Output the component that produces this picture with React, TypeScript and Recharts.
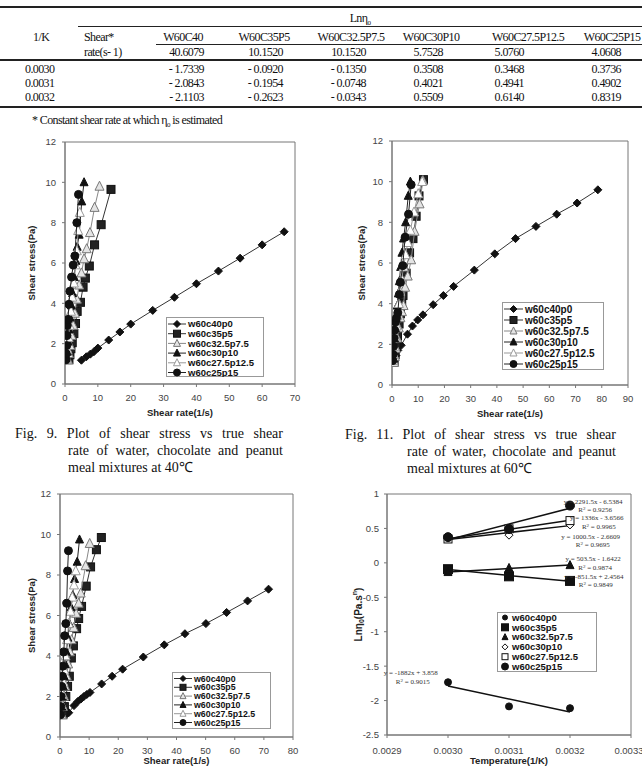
import React from "react";
import {
  ScatterChart,
  Scatter,
  XAxis,
  YAxis,
  ReferenceArea,
  ReferenceDot,
  ReferenceLine,
  Legend,
} from "recharts";

const SANS = "'Liberation Sans', Arial, sans-serif";
const SERIF = "'Liberation Serif', 'Times New Roman', serif";

// ---- table data ----
const MIXES = ["W60C40", "W60C35P5", "W60C32.5P7.5", "W60C30P10", "W60C27.5P12.5", "W60C25P15"];
const RATE_AT = ["40.6079", "10.1520", "10.1520", "5.7528", "5.0760", "4.0608"];
const INV_T = [0.003, 0.0031, 0.0032];
const INV_T_LABELS = ["0.0030", "0.0031", "0.0032"];

const lnEtaC40 = [-1.7339, -2.0843, -2.1103];
const lnEtaC35P5 = [-0.092, -0.1954, -0.2623];
const lnEtaC32P7 = [-0.135, -0.0748, -0.0343];
const lnEtaC30P10 = [0.3508, 0.4021, 0.5509];
const lnEtaC27P12 = [0.3468, 0.4941, 0.614];
const lnEtaC25P15 = [0.3736, 0.4902, 0.8319];
const LN_ETA = [lnEtaC40, lnEtaC35P5, lnEtaC32P7, lnEtaC30P10, lnEtaC27P12, lnEtaC25P15];

// trend lines as printed on the Arrhenius plot
const trendSlope = [-1882, -851.5, 503.5, 1000.5, 1336, 2291.5];
const trendIntercept = [3.858, 2.4564, -1.6422, -2.6609, -3.6566, -6.5384];
const trendR2 = ["0.9015", "0.9849", "0.9874", "0.9695", "0.9965", "0.9256"];
const eqAnchorX = [0.002939, 0.003239, 0.003238, 0.003234, 0.003244, 0.003238];
const eqAnchorY = [-1.6, -0.205, 0.056, 0.376, 0.651, 0.884];

const SERIES = ["w60c40p0", "w60c35p5", "w60c32.5p7.5", "w60c30p10", "w60c27.5p12.5", "w60c25p15"];

// ---- Fig. 9, 40℃ ----
const r40_c40p0 = [5.0, 6.5, 7.7, 8.8, 10.0, 13.3, 16.7, 20.0, 26.7, 33.3, 40.0, 46.7, 53.3, 60.0, 66.7];
const s40_c40p0 = [1.18, 1.35, 1.48, 1.6, 1.78, 2.18, 2.58, 2.97, 3.65, 4.3, 4.97, 5.6, 6.24, 6.9, 7.55];
const r40_c35p5 = [1.2, 1.5, 1.8, 2.2, 2.7, 3.2, 3.7, 4.7, 5.5, 6.2, 7.4, 9.0, 11.0, 14.0];
const s40_c35p5 = [1.2, 1.45, 1.75, 2.05, 2.5, 3.0, 3.6, 4.05, 4.8, 5.25, 5.85, 6.9, 7.9, 9.65];
const r40_c32p7 = [0.9, 1.2, 1.6, 2.0, 2.5, 3.0, 3.6, 4.3, 5.0, 5.8, 6.6, 7.6, 9.0, 10.5];
const s40_c32p7 = [1.2, 1.5, 1.9, 2.4, 2.9, 3.5, 4.2, 4.9, 5.5, 6.2, 6.7, 7.5, 8.75, 9.8];
const r40_c30p10 = [0.5, 0.7, 0.9, 1.2, 1.5, 1.9, 2.3, 2.8, 3.3, 3.7, 4.3, 5.1, 5.8];
const s40_c30p10 = [1.2, 1.6, 2.1, 2.7, 3.3, 3.9, 4.5, 5.3, 6.1, 6.8, 7.4, 9.05, 10.0];
const r40_c27p12 = [0.6, 0.8, 1.1, 1.4, 1.8, 2.2, 2.7, 3.2, 3.6, 4.0, 4.5];
const s40_c27p12 = [1.2, 1.7, 2.3, 2.9, 3.6, 4.3, 5.0, 5.9, 6.6, 7.6, 8.5];
const r40_c25p15 = [0.3, 0.4, 0.5, 0.6, 0.7, 0.9, 1.2, 1.5, 2.0, 2.5, 3.0, 3.6, 4.1];
const s40_c25p15 = [1.2, 1.5, 1.9, 2.4, 2.9, 3.2, 3.95, 4.6, 5.3, 5.9, 6.35, 8.0, 9.4];

// ---- Fig. 11, 60℃ ----
const r60_c40p0 = [1.0, 1.5, 2.2, 3.5, 5.9, 7.8, 9.8, 11.8, 15.7, 19.6, 23.5, 31.4, 39.2, 47.1, 54.9, 62.8, 70.6, 78.5];
const s60_c40p0 = [1.2, 1.45, 1.7, 1.95, 2.5, 2.9, 3.2, 3.45, 3.95, 4.4, 4.85, 5.65, 6.45, 7.2, 7.8, 8.4, 8.95, 9.6];
const r60_c35p5 = [0.8, 1.2, 1.6, 2.1, 2.7, 3.2, 3.7, 4.2, 5.4, 6.7, 8.0, 9.2, 10.3, 12.0];
const s60_c35p5 = [1.15, 1.5, 1.9, 2.4, 3.0, 3.5, 4.0, 4.4, 5.5, 6.5, 7.2, 8.3, 9.3, 10.1];
const r60_c32p7 = [0.8, 1.1, 1.5, 2.0, 2.6, 3.2, 3.8, 4.4, 5.0, 6.0, 7.3, 8.6, 10.5, 11.8];
const s60_c32p7 = [1.1, 1.4, 1.8, 2.3, 2.8, 3.3, 3.6, 3.9, 4.8, 5.35, 6.15, 7.55, 8.9, 10.05];
const r60_c30p10 = [0.4, 0.6, 0.8, 1.0, 1.3, 1.6, 2.0, 2.4, 2.8, 3.3, 3.8, 4.4, 5.2, 6.2, 7.0];
const s60_c30p10 = [1.2, 1.5, 1.9, 2.3, 2.8, 3.3, 3.9, 4.5, 5.1, 5.8, 6.5, 7.2, 8.0, 9.3, 10.0];
const r60_c27p12 = [0.5, 0.7, 1.0, 1.3, 1.7, 2.1, 2.6, 3.1, 3.7, 4.4, 5.2, 6.0, 7.0, 8.4, 10.0, 11.5];
const s60_c27p12 = [1.2, 1.5, 1.9, 2.4, 2.9, 3.4, 4.0, 4.6, 5.2, 5.8, 6.4, 7.0, 7.6, 8.5, 9.4, 10.0];
const r60_c25p15 = [0.3, 0.4, 0.6, 0.8, 1.0, 1.3, 1.7, 2.2, 2.8, 3.2, 4.1, 5.0, 6.3, 7.3];
const s60_c25p15 = [1.2, 1.5, 1.9, 2.3, 2.7, 3.1, 3.3, 3.55, 4.45, 5.05, 5.87, 7.27, 8.4, 9.85];

// ---- lower left plot ----
const r50_c40p0 = [2.0, 3.0, 4.8, 6.1, 7.2, 8.2, 9.2, 10.3, 14.3, 17.9, 21.5, 28.6, 35.8, 42.9, 50.1, 57.2, 64.4, 71.6];
const s50_c40p0 = [1.1, 1.2, 1.55, 1.75, 1.88, 2.0, 2.1, 2.2, 2.62, 3.0, 3.35, 3.95, 4.55, 5.1, 5.6, 6.15, 6.72, 7.3];
const r50_c35p5 = [1.0, 1.5, 2.0, 2.6, 3.2, 3.9, 4.6, 5.7, 6.4, 7.4, 9.0, 10.5, 12.5, 14.2];
const s50_c35p5 = [1.1, 1.5, 2.0, 2.5, 3.0, 3.9, 4.5, 5.35, 5.85, 6.45, 7.45, 8.4, 9.25, 9.85];
const r50_c32p7 = [0.7, 1.0, 1.4, 1.8, 2.3, 2.8, 3.4, 4.0, 4.7, 5.5, 6.4, 7.1, 8.8, 10.2];
const s50_c32p7 = [1.1, 1.5, 2.0, 2.5, 3.0, 3.6, 4.2, 4.8, 5.4, 6.1, 6.6, 7.1, 8.45, 9.55];
const r50_c30p10 = [0.4, 0.6, 0.8, 1.1, 1.4, 1.8, 2.2, 2.7, 3.2, 3.8, 4.4, 5.0, 5.9, 6.7];
const s50_c30p10 = [1.1, 1.5, 2.0, 2.5, 3.0, 3.6, 4.2, 4.9, 5.6, 6.4, 7.0, 7.8, 8.65, 9.75];
const r50_c27p12 = [0.4, 0.6, 0.9, 1.2, 1.5, 1.9, 2.4, 3.0, 3.6, 4.2, 4.8, 5.4];
const s50_c27p12 = [1.1, 1.6, 2.1, 2.7, 3.3, 4.0, 4.8, 5.6, 6.2, 6.9, 7.5, 8.2];
const r50_c25p15 = [0.2, 0.3, 0.4, 0.6, 0.8, 1.0, 1.3, 1.6, 2.0, 2.3, 2.6, 2.9];
const s50_c25p15 = [1.1, 1.5, 2.0, 2.5, 3.0, 3.5, 4.2, 5.0, 5.6, 6.6, 8.2, 9.2];

const STRESS_TICKS = [0, 2, 4, 6, 8, 10, 12];
const LN_TICKS = [-2.5, -2, -1.5, -1, -0.5, 0, 0.5, 1];
const T_TICKS = [0.0029, 0.003, 0.0031, 0.0032, 0.0033];

type Kind = "diamond" | "square" | "triangle" | "circle";
interface MarkStyle {
  kind: Kind;
  fill: string;
  stroke: string;
  size: number;
}

const SHEAR_MARKS: MarkStyle[] = [
  { kind: "diamond", fill: "#111", stroke: "#111", size: 8 },
  { kind: "square", fill: "#222", stroke: "#111", size: 8 },
  { kind: "triangle", fill: "#e4e4e4", stroke: "#777", size: 9 },
  { kind: "triangle", fill: "#111", stroke: "#111", size: 8 },
  { kind: "triangle", fill: "#fff", stroke: "#999", size: 9 },
  { kind: "circle", fill: "#111", stroke: "#111", size: 8 },
];
const SHEAR_LINES = ["#333", "#333", "#888", "#222", "#999", "#222"];

const LN_MARKS: MarkStyle[] = [
  { kind: "circle", fill: "#111", stroke: "#111", size: 7 },
  { kind: "square", fill: "#111", stroke: "#111", size: 9 },
  { kind: "triangle", fill: "#111", stroke: "#111", size: 8 },
  { kind: "diamond", fill: "#fff", stroke: "#111", size: 8 },
  { kind: "square", fill: "#fff", stroke: "#111", size: 8 },
  { kind: "circle", fill: "#111", stroke: "#111", size: 9 },
];

const pts = (xs: number[], ys: number[]) => xs.map((x, i) => ({ x, y: ys[i] }));

const TICK = { fontSize: 9.5, fill: "#444", fontFamily: SANS };
const AXIS_TITLE = { fontFamily: SANS, fontSize: 9.5, fontWeight: 700, fill: "#222" };

function Mark({ cx, cy, s }: { cx: number; cy: number; s: MarkStyle }) {
  if (cx == null || cy == null) return null;
  const h = s.size / 2;
  const c = { fill: s.fill, stroke: s.stroke, strokeWidth: 1 };
  if (s.kind === "diamond")
    return <polygon points={`${cx},${cy - h} ${cx + h},${cy} ${cx},${cy + h} ${cx - h},${cy}`} {...c} />;
  if (s.kind === "square") return <rect x={cx - h} y={cy - h} width={s.size} height={s.size} {...c} />;
  if (s.kind === "triangle")
    return (
      <polygon
        points={`${cx},${cy - h * 1.15} ${cx + h},${cy + h * 0.85} ${cx - h},${cy + h * 0.85}`}
        {...c}
      />
    );
  return <circle cx={cx} cy={cy} r={h} {...c} />;
}

interface LegendSpec {
  left: number;
  top: number;
  w: number;
  h: number;
  y0: number;
  step: number;
  textX: number;
  font: number;
  markSize: number;
}

function ShearLegend({ w, h, y0, step, textX, font, markSize }: LegendSpec) {
  return (
    <svg width={w} height={h} style={{ display: "block" }}>
      <rect x={0.5} y={0.5} width={w - 1} height={h - 1} fill="#fff" stroke="#999" />
      {SERIES.map((name, i) => {
        const cy = y0 + step * i;
        return (
          <g key={name}>
            <line x1={2} x2={textX - 2} y1={cy} y2={cy} stroke={SHEAR_LINES[i]} />
            <Mark cx={textX / 2} cy={cy} s={{ ...SHEAR_MARKS[i], size: markSize }} />
            <text x={textX} y={cy} dy="0.35em" fontFamily={SANS} fontSize={font} fontWeight={700} fill="#111">
              {name}
            </text>
          </g>
        );
      })}
    </svg>
  );
}

interface ShearPlotProps {
  left: number;
  top: number;
  width: number;
  height: number;
  margin: { top: number; right: number; bottom: number; left: number };
  xAxisH: number;
  xMax: number;
  xTicks: number[];
  data: { x: number; y: number }[][];
  legend: LegendSpec;
  yLabelOffset: number;
}

function ShearPlot(p: ShearPlotProps) {
  return (
    <div style={{ position: "absolute", left: p.left, top: p.top }}>
      <ScatterChart width={p.width} height={p.height} margin={p.margin}>
        <XAxis
          type="number"
          dataKey="x"
          domain={[0, p.xMax]}
          ticks={p.xTicks}
          allowDataOverflow
          height={p.xAxisH}
          tickSize={3}
          tickMargin={7}
          tick={TICK}
          stroke="#777"
          label={{ value: "Shear rate(1/s)", position: "insideBottom", offset: 0, style: AXIS_TITLE }}
        />
        <YAxis
          type="number"
          dataKey="y"
          domain={[0, 12]}
          ticks={STRESS_TICKS}
          allowDataOverflow
          width={40}
          tickSize={3}
          tickMargin={6}
          tick={TICK}
          stroke="#777"
          label={{
            value: "Shear stress(Pa)",
            angle: -90,
            position: "insideLeft",
            offset: p.yLabelOffset,
            style: { ...AXIS_TITLE, textAnchor: "middle" },
          }}
        />
        <ReferenceArea x1={0} x2={p.xMax} y1={0} y2={12} fill="none" stroke="#777" />
        {p.data.map((d, i) => (
          <Scatter
            key={SERIES[i]}
            name={SERIES[i]}
            data={d}
            line={{ stroke: SHEAR_LINES[i], strokeWidth: 1 }}
            lineType="joint"
            isAnimationActive={false}
            shape={(sp: any) => <Mark cx={sp.cx} cy={sp.cy} s={SHEAR_MARKS[i]} />}
          />
        ))}
        <Legend
          layout="vertical"
          align="center"
          verticalAlign="middle"
          wrapperStyle={{ left: p.legend.left, top: p.legend.top, width: p.legend.w, height: p.legend.h }}
          content={() => <ShearLegend {...p.legend} />}
        />
      </ScatterChart>
    </div>
  );
}

const lnLabel = (props: any) => {
  const vb = props.viewBox || { x: 17, y: 16, width: 40, height: 241 };
  const x = vb.x + 11;
  const y = vb.y + vb.height / 2;
  return (
    <text
      x={x}
      y={y}
      transform={`rotate(-90 ${x} ${y})`}
      textAnchor="middle"
      dominantBaseline="central"
      fontFamily={SANS}
      fontSize={10}
      fontWeight={700}
      fill="#222"
    >
      Lnη
      <tspan fontSize={7} dy={3}>0</tspan>
      <tspan dy={-3}>(Pa.s</tspan>
      <tspan fontSize={7} dy={-4}>n</tspan>
      <tspan dy={4}>)</tspan>
    </text>
  );
};

function eqText(i: number) {
  const m = trendSlope[i];
  const b = trendIntercept[i];
  return `y = ${m}x ${b < 0 ? "-" : "+"} ${Math.abs(b)}`;
}

function LnLegend() {
  return (
    <svg width={100} height={60} style={{ display: "block" }}>
      <rect x={0.5} y={0.5} width={99} height={59} fill="#fff" stroke="#999" />
      {SERIES.map((name, i) => {
        const cy = 5.5 + i * 9.8;
        return (
          <g key={name}>
            <Mark cx={8} cy={cy} s={{ ...LN_MARKS[i], size: LN_MARKS[i].size - 2 }} />
            <text x={15} y={cy} dy="0.35em" fontFamily={SANS} fontSize={9.5} fontWeight={700} fill="#111">
              {name}
            </text>
          </g>
        );
      })}
    </svg>
  );
}

function LnPlot() {
  return (
    <div style={{ position: "absolute", left: 330, top: 478 }}>
      <ScatterChart width={312} height={289} margin={{ top: 16, right: 11, bottom: 3, left: 17 }}>
        <XAxis
          type="number"
          dataKey="x"
          domain={[0.0029, 0.0033]}
          ticks={T_TICKS}
          tickFormatter={(v: number) => v.toFixed(4)}
          allowDataOverflow
          height={29}
          tickSize={3}
          tickMargin={9}
          tick={TICK}
          stroke="#777"
          label={{ value: "Temperature(1/K)", position: "insideBottom", offset: 0, style: AXIS_TITLE }}
        />
        <YAxis
          type="number"
          dataKey="y"
          domain={[-2.5, 1]}
          ticks={LN_TICKS}
          allowDataOverflow
          width={40}
          tickSize={3}
          tickMargin={5}
          tick={TICK}
          stroke="#777"
          label={lnLabel}
        />
        <ReferenceArea x1={0.0029} x2={0.0033} y1={-2.5} y2={1} fill="none" stroke="#777" />
        {trendSlope.map((m, i) => (
          <ReferenceLine
            key={`t${i}`}
            segment={[
              { x: INV_T[0], y: m * INV_T[0] + trendIntercept[i] },
              { x: INV_T[2], y: m * INV_T[2] + trendIntercept[i] },
            ]}
            stroke="#111"
            strokeWidth={1.5}
          />
        ))}
        {LN_ETA.map((ys, i) => (
          <Scatter
            key={SERIES[i]}
            name={SERIES[i]}
            data={pts(INV_T, ys)}
            isAnimationActive={false}
            shape={(sp: any) => <Mark cx={sp.cx} cy={sp.cy} s={LN_MARKS[i]} />}
          />
        ))}
        {eqAnchorX.map((x, i) => (
          <ReferenceDot
            key={`e${i}`}
            x={x}
            y={eqAnchorY[i]}
            r={0}
            shape={(sp: any) => (
              <g fontFamily={SERIF} fontSize={7} fill="#333">
                <text x={sp.cx} y={sp.cy} textAnchor="middle" dominantBaseline="central">
                  {eqText(i)}
                </text>
                <text x={sp.cx + 2} y={sp.cy + 8.5} textAnchor="middle" dominantBaseline="central">
                  R<tspan fontSize={5} dy={-2}>2</tspan>
                  <tspan dy={2}> = {trendR2[i]}</tspan>
                </text>
              </g>
            )}
          />
        ))}
        <Legend
          layout="vertical"
          align="center"
          verticalAlign="middle"
          wrapperStyle={{ left: 167, top: 134, width: 100, height: 60 }}
          content={() => <LnLegend />}
        />
      </ScatterChart>
    </div>
  );
}

function DataTable() {
  const base: React.CSSProperties = {
    position: "absolute",
    fontFamily: SERIF,
    fontSize: 12,
    letterSpacing: -0.6,
    lineHeight: "14px",
    whiteSpace: "nowrap",
    color: "#111",
  };
  const headCenters = [183, 264, 351, 431, 528, 612];
  const valueRights = [204, 283, 366, 443, 524, 621];
  const rowY = [69, 83, 97];
  const fmt = (v: number) => (v < 0 ? `- ${Math.abs(v).toFixed(4)}` : v.toFixed(4));
  const rule = (top: number, left: number, h: number) => (
    <div style={{ position: "absolute", left, right: 0, top, height: h, background: "#222" }} />
  );
  return (
    <>
      {rule(6, 0, 1.5)}
      {rule(25.5, 78, 1)}
      {rule(44, 156, 1)}
      {rule(59, 0, 1.5)}
      {rule(106, 0, 1.5)}
      <div style={{ ...base, left: 300, width: 120, top: 11, textAlign: "center" }}>
        Lnη<sub style={{ fontSize: 7 }}>0</sub>
      </div>
      <div style={{ ...base, left: 33, top: 30 }}>1/K</div>
      <div style={{ ...base, left: 84, top: 30 }}>Shear*</div>
      <div style={{ ...base, left: 84, top: 45 }}>rate(s- 1)</div>
      {MIXES.map((m, i) => (
        <div key={m} style={{ ...base, left: headCenters[i] - 60, width: 120, top: 30, textAlign: "center" }}>
          {m}
        </div>
      ))}
      {RATE_AT.map((r, i) => (
        <div key={`r${i}`} style={{ ...base, right: 642 - valueRights[i], top: 45, textAlign: "right" }}>
          {r}
        </div>
      ))}
      {INV_T_LABELS.map((t, j) => (
        <React.Fragment key={t}>
          <div style={{ ...base, left: 25, top: rowY[j] - 7 }}>{t}</div>
          {LN_ETA.map((ys, i) => (
            <div
              key={`${t}-${i}`}
              style={{ ...base, right: 642 - valueRights[i], top: rowY[j] - 7, textAlign: "right" }}
            >
              {fmt(ys[j])}
            </div>
          ))}
        </React.Fragment>
      ))}
      <div style={{ ...base, left: 32, top: 113 }}>
        * Constant shear rate at which η<sub style={{ fontSize: 7 }}>0</sub> is estimated
      </div>
    </>
  );
}

function Caption({ left, indent, top, width, lines }: { left: number; indent: number; top: number; width: number; lines: string[] }) {
  const base: React.CSSProperties = {
    position: "absolute",
    fontFamily: SERIF,
    fontSize: 14,
    lineHeight: "17px",
    whiteSpace: "nowrap",
    color: "#111",
  };
  return (
    <>
      <div style={{ ...base, left, top, width, textAlign: "justify", textAlignLast: "justify", whiteSpace: "normal" }}>
        {lines[0]}
      </div>
      <div
        style={{
          ...base,
          left: indent,
          top: top + 17,
          width: left + width - indent,
          textAlign: "justify",
          textAlignLast: "justify",
          whiteSpace: "normal",
        }}
      >
        {lines[1]}
      </div>
      <div style={{ ...base, left: indent, top: top + 34 }}>{lines[2]}</div>
    </>
  );
}

export default function App() {
  const fig9 = [
    pts(r40_c40p0, s40_c40p0),
    pts(r40_c35p5, s40_c35p5),
    pts(r40_c32p7, s40_c32p7),
    pts(r40_c30p10, s40_c30p10),
    pts(r40_c27p12, s40_c27p12),
    pts(r40_c25p15, s40_c25p15),
  ];
  const fig11 = [
    pts(r60_c40p0, s60_c40p0),
    pts(r60_c35p5, s60_c35p5),
    pts(r60_c32p7, s60_c32p7),
    pts(r60_c30p10, s60_c30p10),
    pts(r60_c27p12, s60_c27p12),
    pts(r60_c25p15, s60_c25p15),
  ];
  const fig10 = [
    pts(r50_c40p0, s50_c40p0),
    pts(r50_c35p5, s50_c35p5),
    pts(r50_c32p7, s50_c32p7),
    pts(r50_c30p10, s50_c30p10),
    pts(r50_c27p12, s50_c27p12),
    pts(r50_c25p15, s50_c25p15),
  ];
  return (
    <div
      style={{
        position: "absolute",
        left: 0,
        top: 0,
        width: 642,
        height: 767,
        overflow: "hidden",
        background: "#fff",
      }}
    >
      <DataTable />
      <ShearPlot
        left={0}
        top={125}
        width={330}
        height={300}
        margin={{ top: 17, right: 35, bottom: 9, left: 25 }}
        xAxisH={32}
        xMax={70}
        xTicks={[0, 10, 20, 30, 40, 50, 60, 70]}
        data={fig9}
        legend={{ left: 166, top: 192, w: 98, h: 60, y0: 7, step: 9.7, textX: 22, font: 9.5, markSize: 7 }}
        yLabelOffset={7}
      />
      <ShearPlot
        left={330}
        top={125}
        width={312}
        height={300}
        margin={{ top: 16, right: 14, bottom: 8, left: 22 }}
        xAxisH={32}
        xMax={90}
        xTicks={[0, 10, 20, 30, 40, 50, 60, 70, 80, 90]}
        data={fig11}
        legend={{ left: 172, top: 177, w: 102, h: 68, y0: 7, step: 11, textX: 23, font: 10, markSize: 7 }}
        yLabelOffset={10}
      />
      <ShearPlot
        left={0}
        top={478}
        width={330}
        height={289}
        margin={{ top: 16, right: 37, bottom: 3, left: 20 }}
        xAxisH={27}
        xMax={80}
        xTicks={[0, 10, 20, 30, 40, 50, 60, 70, 80]}
        data={fig10}
        legend={{ left: 172, top: 194, w: 99, h: 57, y0: 6.5, step: 8.8, textX: 22, font: 8.8, markSize: 6 }}
        yLabelOffset={12}
      />
      <LnPlot />
      <Caption
        left={15}
        indent={68}
        top={425}
        width={268}
        lines={[
          "Fig. 9. Plot of shear stress vs true shear",
          "rate of water, chocolate and peanut",
          "meal mixtures at 40℃",
        ]}
      />
      <Caption
        left={345}
        indent={407}
        top={426}
        width={271}
        lines={[
          "Fig. 11. Plot of shear stress vs true shear",
          "rate of water, chocolate and peanut",
          "meal mixtures at 60℃",
        ]}
      />
    </div>
  );
}
